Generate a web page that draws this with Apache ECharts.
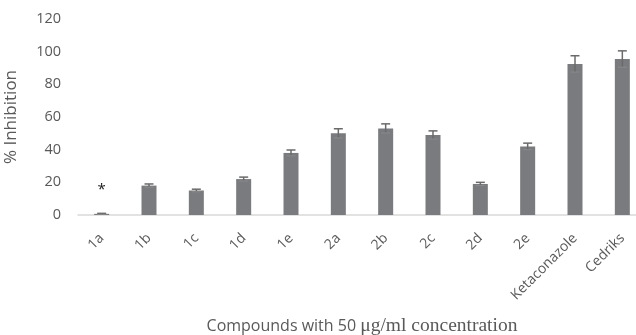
<!DOCTYPE html>
<html>
<head>
<meta charset="utf-8">
<script src="https://cdn.jsdelivr.net/npm/echarts@6/dist/echarts.min.js"></script>
<style>
html,body{margin:0;padding:0;background:#fff;}
#c{width:636px;height:335px;}
</style>
</head>
<body>
<div id="c"></div>
<script>
const categories = ['1a','1b','1c','1d','1e','2a','2b','2c','2d','2e','Ketaconazole','Cedriks'];
const inhibition = [0.7, 18, 15, 22, 38, 50, 53, 49, 19, 42, 92.5, 95.5];
const errors = [0.3, 1, 0.8, 1.2, 1.8, 2.8, 2.8, 2.5, 1, 2, 5, 5];
const marks = ['*','','','','','','','','','','',''];
const yTicks = [0, 20, 40, 60, 80, 100, 120];

const errData = categories.map((c, i) => [i, inhibition[i] - errors[i], inhibition[i] + errors[i]]);
const font = 'Open Sans';

const chart = echarts.init(document.getElementById('c'));
chart.setOption({
  animation: false,
  backgroundColor: '#ffffff',
  grid: { left: 78, top: 19, width: 568, height: 196, containLabel: false, outerBoundsMode: 'none' },
  xAxis: {
    type: 'category',
    data: categories,
    axisLine: { lineStyle: { color: '#d9d9d9', width: 1.5 } },
    axisTick: { show: false },
    axisLabel: { rotate: 45, margin: 21, color: '#595959', fontFamily: font, fontSize: 14, interval: 0 },
    name: '{a|Compounds with 50 }{b|μg/ml concentration}',
    nameLocation: 'middle',
    nameGap: 101,
    nameTextStyle: {
      rich: {
        a: { fontFamily: font, fontSize: 16, color: '#595959' },
        b: { fontFamily: 'Liberation Serif', fontSize: 19.5, color: '#595959' }
      }
    }
  },
  yAxis: {
    type: 'value',
    min: yTicks[0],
    max: yTicks[yTicks.length - 1],
    interval: 20,
    splitLine: { show: false },
    axisLine: { show: false },
    axisTick: { show: false },
    axisLabel: { margin: 17, color: '#595959', fontFamily: font, fontSize: 14.5 },
    name: '% Inhibition',
    nameLocation: 'middle',
    nameGap: 58,
    nameTextStyle: { fontFamily: font, fontSize: 17, color: '#595959', padding: [0, 0, 0, 0] }
  },
  series: [
    {
      type: 'bar',
      data: inhibition,
      barWidth: 15,
      itemStyle: { color: '#7a7b7e' },
      label: {
        show: true,
        position: 'top',
        distance: 17,
        formatter: p => marks[p.dataIndex],
        color: '#222',
        fontFamily: font,
        fontSize: 15
      },
      z: 2
    },
    {
      type: 'custom',
      data: errData,
      z: 3,
      renderItem: function (params, api) {
        const i = api.value(0);
        const lo = api.coord([i, api.value(1)]);
        const hi = api.coord([i, api.value(2)]);
        const hw = 4.5;
        const style = { stroke: '#6a6a6a', lineWidth: 1.5, fill: null };
        return {
          type: 'group',
          children: [
            { type: 'line', shape: { x1: hi[0], y1: hi[1], x2: lo[0], y2: lo[1] }, style: style },
            { type: 'line', shape: { x1: hi[0] - hw, y1: hi[1], x2: hi[0] + hw, y2: hi[1] }, style: style },
            { type: 'line', shape: { x1: lo[0] - hw, y1: lo[1], x2: lo[0] + hw, y2: lo[1] }, style: { stroke: '#8a8a8a', lineWidth: 1, fill: null } }
          ]
        };
      }
    }
  ]
});
</script>
</body>
</html>
